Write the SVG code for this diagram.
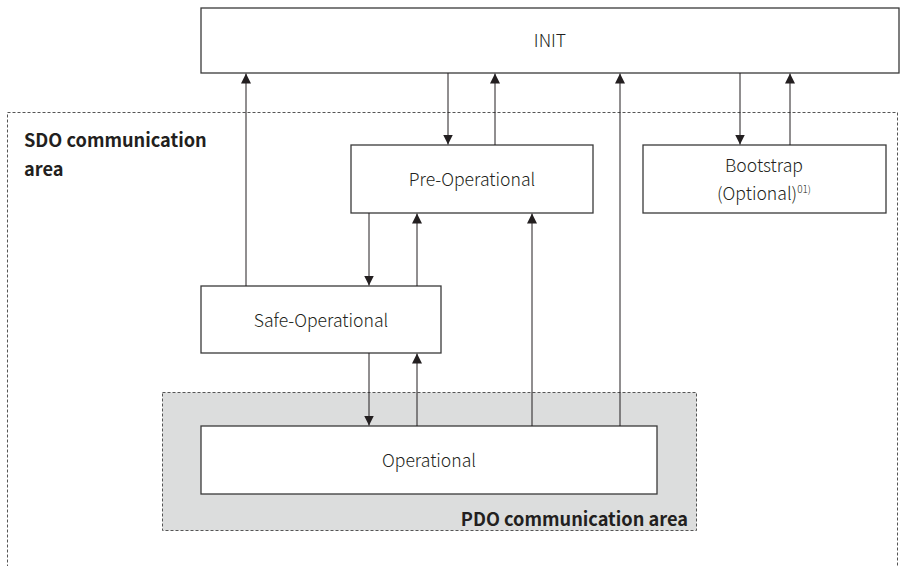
<svg xmlns="http://www.w3.org/2000/svg" width="904" height="566" viewBox="0 0 904 566">
<style>
.box{fill:#fff;stroke:#3a3a3a;stroke-width:1.3}
.area{fill:none;stroke:#555;stroke-width:1;stroke-dasharray:3,2}
.pdo{fill:#dcdddd;stroke:#555;stroke-width:1;stroke-dasharray:3,2}
.lbl{font-family:"Noto Sans CJK KR","Noto Sans",sans-serif;font-weight:300;font-size:17.6px;fill:#231f20;text-anchor:middle}
.b{font-family:"Noto Sans CJK KR","Noto Sans",sans-serif;font-weight:700;font-size:18.2px;fill:#231f20}
.c line{stroke:#231f20;stroke-width:1;marker-end:url(#ah)}
</style>
<defs>
<marker id="ah" viewBox="0 0 10 14" refX="10" refY="7" markerWidth="10" markerHeight="14" markerUnits="userSpaceOnUse" orient="auto">
<path d="M0,2 L10,7 L0,12 Z" fill="#231f20"/>
</marker>
</defs>
<g id="sdo-area">
<rect class="area" x="7.5" y="112.5" width="890" height="460"/>
<text class="b" x="24" y="147">SDO communication</text>
<text class="b" x="24" y="176">area</text>
</g>
<g id="pdo-area">
<rect class="pdo" x="162.5" y="392.5" width="534" height="138"/>
<text class="b" x="688" y="526" text-anchor="end">PDO communication area</text>
</g>
<g id="init">
<rect class="box" x="201" y="8" width="698" height="65"/>
<text class="lbl" x="550" y="47">INIT</text>
</g>
<g id="preop">
<rect class="box" x="351" y="145" width="242" height="68"/>
<text class="lbl" x="472" y="186">Pre-Operational</text>
</g>
<g id="bootstrap">
<rect class="box" x="643" y="145" width="243" height="68"/>
<text class="lbl" x="764" y="172">Bootstrap</text>
<text class="lbl" x="764" y="200">(Optional)<tspan font-size="10" dy="-7">01)</tspan></text>
</g>
<g id="safeop">
<rect class="box" x="201" y="286" width="240" height="67"/>
<text class="lbl" x="321" y="327">Safe-Operational</text>
</g>
<g id="op">
<rect class="box" x="201" y="426" width="456" height="68"/>
<text class="lbl" x="429" y="467">Operational</text>
</g>
<g id="connectors" class="c">
<line x1="246" y1="286" x2="246" y2="73.5"/>
<line x1="448" y1="73" x2="448" y2="144.5"/>
<line x1="495" y1="145" x2="495" y2="73.5"/>
<line x1="620" y1="426" x2="620" y2="73.5"/>
<line x1="740" y1="73" x2="740" y2="144.5"/>
<line x1="790" y1="145" x2="790" y2="73.5"/>
<line x1="369" y1="213" x2="369" y2="285.5"/>
<line x1="417" y1="286" x2="417" y2="213.5"/>
<line x1="532" y1="426" x2="532" y2="213.5"/>
<line x1="369" y1="353" x2="369" y2="425.5"/>
<line x1="417" y1="426" x2="417" y2="353.5"/>
</g>
</svg>
